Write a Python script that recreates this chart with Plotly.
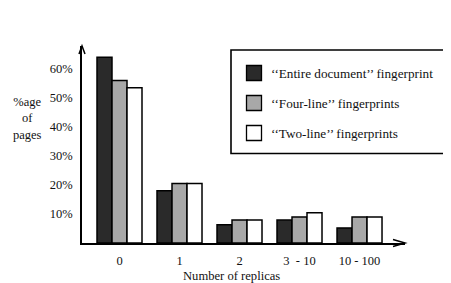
import plotly.graph_objects as go

categories = ["0", "1", "2", "3  - 10", "10 - 100"]
series_names = ["\u2018\u2018Entire document\u2019\u2019 fingerprint",
                "\u2018\u2018Four-line\u2019\u2019 fingerprints",
                "\u2018\u2018Two-line\u2019\u2019 fingerprints"]
entire_doc = [64, 18, 6.3, 7.9, 5.2]
four_line = [56, 20.5, 7.9, 9, 9]
two_line = [53.5, 20.5, 7.9, 10.4, 9]
y_tick_vals = [10, 20, 30, 40, 50, 60]
y_tick_text = ["10%", "20%", "30%", "40%", "50%", "60%"]
colors = ["#2a2a2a", "#a8a8a8", "#ffffff"]

# page body has an 8px default margin; figure is drawn inside it
OFF = 8
W, H = 451 - OFF, 283 - OFF
L, R, T, B = 82 - OFF, 46, 46 - OFF, 40
PW, PH = W - L - R, H - T - B


def px(xp):
    return (xp - OFF - L) / PW


def py(yp):
    return (H - B - (yp - OFF)) / PH


FONT = "Liberation Serif, Times New Roman, serif"
xpos = list(range(len(categories)))

fig = go.Figure()
for name, vals, col in zip(series_names, [entire_doc, four_line, two_line], colors):
    fig.add_trace(go.Bar(x=xpos, y=vals, name=name,
                         marker=dict(color=col, line=dict(color="black", width=1.5)),
                         showlegend=False))

shapes = []
annotations = []
# axis arrowheads
shapes.append(dict(type="path", xref="paper", yref="paper", xsizemode="pixel", ysizemode="pixel",
                   xanchor=1, yanchor=0, path="M-12,3.5 L0,0 L-12,-3.5",
                   line=dict(color="black", width=1.5)))
shapes.append(dict(type="path", xref="paper", yref="paper", xsizemode="pixel", ysizemode="pixel",
                   xanchor=0, yanchor=1, path="M-3,-8 L0,0 L3,-8",
                   line=dict(color="black", width=1.5)))
# legend box
shapes.append(dict(type="rect", xref="paper", yref="paper", x0=px(231), x1=px(460), y0=py(153.5), y1=py(50),
                   line=dict(color="black", width=1.6), fillcolor="rgba(0,0,0,0)"))
row_y = [73, 103, 133]
for name, col, ry in zip(series_names, colors, row_y):
    shapes.append(dict(type="rect", xref="paper", yref="paper", x0=px(246.5), x1=px(261.5),
                       y0=py(ry + 7.5), y1=py(ry - 7.5), line=dict(color="black", width=1.3),
                       fillcolor=col))
    annotations.append(dict(text=name, xref="paper", yref="paper", x=px(269), y=py(ry),
                            xanchor="left", yanchor="middle", showarrow=False,
                            font=dict(family=FONT, size=13.2, color="#111")))

annotations.append(dict(text="%age<br>of<br>pages", xref="paper", yref="paper", x=px(27), y=py(118),
                        xanchor="center", yanchor="middle", showarrow=False,
                        font=dict(family=FONT, size=12.5, color="#111")))
annotations.append(dict(text="Number of replicas", xref="paper", yref="paper", x=px(231), y=py(276),
                        xanchor="center", yanchor="middle", showarrow=False,
                        font=dict(family=FONT, size=12.6, color="#111")))

fig.update_layout(
    width=W, height=H,
    margin=dict(l=L, r=R, t=T, b=B, pad=0),
    paper_bgcolor="white", plot_bgcolor="white",
    barmode="group", bargap=0.25, bargroupgap=0,
    shapes=shapes, annotations=annotations,
    font=dict(family=FONT, size=12.5, color="#111"),
    xaxis=dict(range=[-0.625, 4.758], tickvals=xpos, ticktext=categories, showgrid=False,
               zeroline=False, showline=True, linecolor="black", linewidth=1.5, ticks="",
               ticklabelstandoff=5,
               tickfont=dict(family=FONT, size=12.5, color="#111"), fixedrange=True),
    yaxis=dict(range=[0, 67.9], tickvals=y_tick_vals, ticktext=y_tick_text, showgrid=False,
               zeroline=False, showline=True, linecolor="black", linewidth=1.5, ticks="",
               ticklabelstandoff=5,
               tickfont=dict(family=FONT, size=12.5, color="#111"), fixedrange=True),
)

fig.write_html("out.html", config={"displayModeBar": False})
